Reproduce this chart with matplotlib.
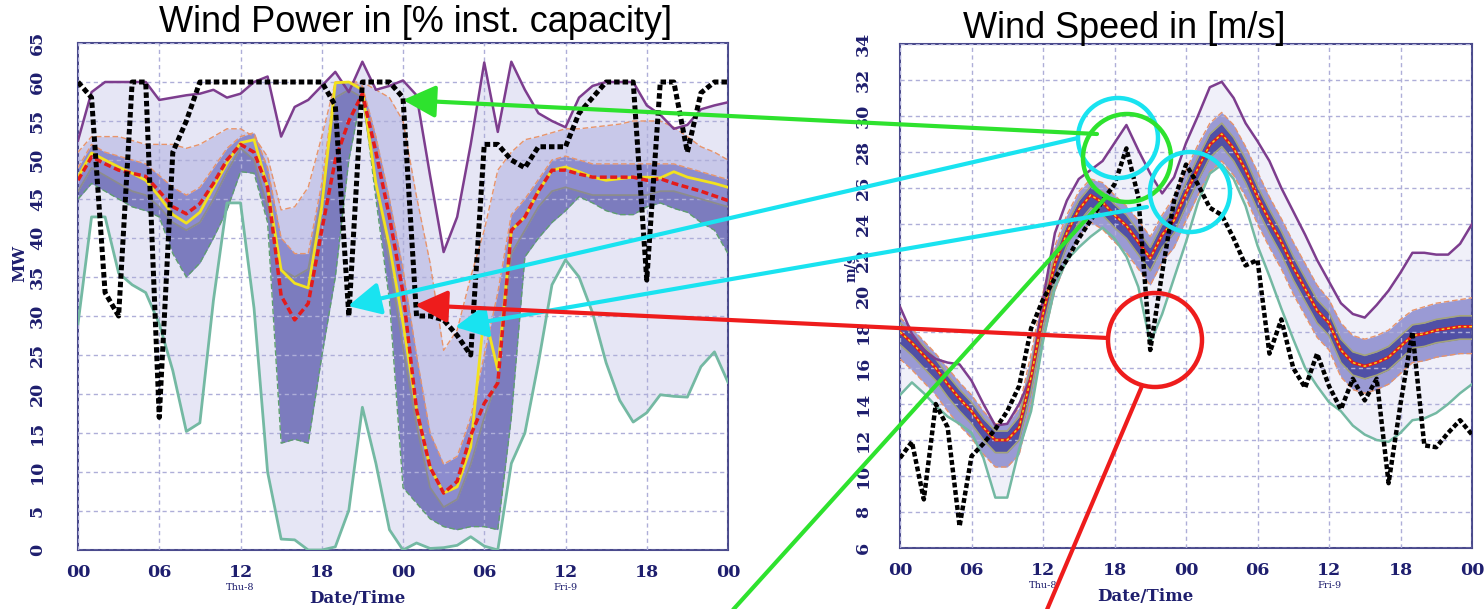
import numpy as np
import matplotlib
matplotlib.use('Agg')
import matplotlib.pyplot as plt
from matplotlib.patches import Ellipse, FancyArrowPatch
from matplotlib.lines import Line2D

# ---------------- data ----------------
hours = np.arange(49)
tick_hours = [0, 6, 12, 18, 24, 30, 36, 42, 48]
tick_labels = ['00', '06', '12', '18', '00', '06', '12', '18', '00']
day_hours = [12, 36]
day_labels = ['Thu-8', 'Fri-9']

# Wind power [MW]
wp_obs = [60, 58, 33, 30, 60, 60, 17, 51, 55, 60, 60, 60, 60, 60, 60, 60, 60, 60, 60, 57,
          30, 60, 60, 60, 58, 30, 30, 29.5, 27.5, 25, 52, 52, 50, 49, 51.7, 51.7, 51.7, 56, 58, 60,
          60, 60, 34.6, 60, 60, 51, 58.6, 60, 60]
wp_max = [52.5, 58.7, 60, 60, 60, 60, 57.7, 58, 58.3, 58.5, 59, 58, 58.5, 60, 60.7, 53, 56.8, 57.7, 59.5, 61.3,
          58.7, 62.6, 59, 59.5, 60.2, 58.3, 48, 38.2, 42.7, 52, 62.5, 53.6, 62.6, 59, 56, 55, 54.2, 58, 59.5, 60,
          60, 60, 57, 55.8, 54, 54.5, 56.5, 57, 57.4]
wp_min = [29, 42.7, 42.7, 35.5, 34, 33, 29, 23, 15.2, 16.3, 32, 44.5, 44.5, 31, 10, 1.4, 1.3, 0, 0, 0.4,
          5.1, 18.3, 11.1, 2.6, 0, 0.9, 0.2, 0.3, 0.6, 1.7, 0.5, 0, 11.1, 15, 24, 34, 37.2, 35, 30.4, 24,
          19.2, 16.4, 17.6, 19.9, 19.7, 19.6, 23.5, 25.4, 21.5]
wp_yellow = [47.8, 50.9, 50, 49.1, 48.3, 47.4, 45.3, 43, 41.9, 43.3, 46.5, 49.6, 52.2, 52.6, 46.5, 35.9, 34.2, 33.6, 44, 59.9,
             60, 59, 47, 39, 29.1, 18, 10.6, 7.3, 8.1, 13.2, 30.4, 23.1, 41, 42.7, 46, 48.7, 49.1, 48.5, 47.8, 47.4,
             47.6, 47.8, 47.8, 47.7, 48.5, 47.8, 47.4, 47, 46.5]
wp_red = [47.4, 50.4, 49.5, 48.7, 48.3, 47.9, 46, 44, 43.1, 44.4, 47, 50, 52, 51, 46.5, 32.6, 29.5, 31.6, 41, 50,
          55, 58.5, 51, 42.7, 33, 18, 10.6, 7.3, 8.8, 14.7, 18.8, 21.4, 41, 42.7, 46, 48.7, 48.7, 48.2, 47.8, 47.8,
          47.8, 47.8, 47.4, 47.6, 47, 46.5, 46, 45.4, 44.8]
wp_q90 = [51, 53, 53, 53, 52.5, 52, 52, 52, 51.5, 52, 53, 54, 54, 53, 50.4, 43.6, 44, 46.5, 53, 60,
          60, 60, 59, 58, 55, 45.3, 36.8, 25.6, 28.2, 35, 41, 48.7, 51, 52.6, 53, 53.5, 54, 54, 54.2, 54.4,
          54.6, 55, 55, 55, 54.2, 53, 51.7, 51, 50]
wp_q75 = [49, 52, 51, 50.5, 50, 49.5, 48, 46.5, 45.5, 46.5, 49, 51.5, 53, 53.5, 49, 40, 38, 38, 47, 60,
          60, 59.5, 53, 45, 36, 25, 15, 11, 12, 17, 25, 33, 43, 45, 47.5, 50, 50.5, 50, 49.5, 49.5,
          49.5, 49.5, 49.5, 49.5, 49.5, 49, 48.5, 48, 47.5]
wp_q25 = [46, 49, 48, 47, 46, 45.5, 44, 42, 41, 42, 45, 48.5, 51.5, 50, 44, 36, 35, 36, 45, 58,
          59, 58, 47, 37, 26, 16, 8, 5.5, 6.5, 11, 17, 22, 38, 41, 44, 46, 46.5, 46, 45.5, 45.5,
          45.5, 45.5, 45.5, 46, 46, 45.5, 45, 44.5, 44]
wp_q10 = [45, 47, 46, 45, 44, 43.5, 42.7, 38, 35, 36.8, 40, 43.6, 48.5, 48.3, 42, 13.7, 14.2, 13.7, 24.8, 35,
          50, 59, 45, 32, 8, 6, 4, 3, 2.6, 3, 3, 2.6, 17, 37.6, 40, 42, 43.5, 45.3, 44.5, 43.5,
          43, 43, 44, 44.5, 43.8, 43.3, 42, 41, 38]

# Wind speed [m/s]
ws_obs = [11.0, 11.9, 8.7, 14.0, 12.7, 7.2, 11.1, 11.8, 12.6, 13.6, 15, 18.2, 19.8, 21, 22, 23.2, 24.2, 25.3, 26.2, 28.2,
          25.5, 17, 21.3, 25.3, 27.3, 26.2, 24.9, 24.5, 23.2, 21.7, 22, 16.8, 18.7, 16, 14.9, 16.8, 15, 13.7, 15.4, 14.2,
          15.4, 9.6, 14, 18, 11.7, 11.6, 12.4, 13.1, 12.3]
ws_max = [19.4, 17.9, 17, 16.5, 16.3, 16.2, 15.3, 14, 12.8, 12.9, 14, 15.5, 19.8, 23.5, 25.3, 26.5, 27, 27.5, 28.5, 29.5,
          28.1, 26.8, 25.7, 26.6, 28.5, 30, 31.6, 31.9, 31, 29.6, 28.6, 27.5, 26, 24.7, 23.4, 22, 20.8, 19.6, 19, 18.8,
          19.5, 20.3, 21.3, 22.4, 22.4, 22.3, 22.3, 22.9, 24]
ws_min = [14.5, 15.2, 14.6, 13.9, 13.3, 12.9, 12.4, 11, 8.8, 8.8, 11.5, 13.6, 17.5, 20.5, 22, 22.7, 23.3, 23.8, 23.2, 22.2,
          20.5, 17.4, 19, 21, 23, 25.2, 26.8, 27.3, 26.5, 25, 22.8, 21.1, 19.3, 17.6, 16, 15, 14.1, 13.6, 12.8, 12.3,
          12, 11.9, 12.4, 13.1, 13.2, 13.5, 14, 14.6, 15.1]
ws_red = [18, 17.4, 16.7, 16, 15.1, 14.3, 13.6, 12.7, 12, 12, 12.7, 15.5, 19, 21.8, 23.5, 24.8, 25.6, 25.2, 24.5, 23.9,
          23, 22.1, 23.4, 24.2, 25.7, 27.1, 28.4, 29, 28.2, 27, 25.5, 24.2, 23, 21.6, 20.4, 19.2, 18.5, 17, 16.3, 16.1,
          16.3, 16.6, 17.2, 17.8, 17.9, 18.1, 18.2, 18.3, 18.3]
ws_q90 = [18.8, 18.2, 17.5, 16.8, 16.0, 15.2, 14.5, 13.6, 12.9, 12.9, 13.8, 16.8, 20.2, 22.8, 24.5, 25.8, 26.5, 26.3, 25.6, 25.0,
          24.2, 23.3, 24.5, 25.5, 27.0, 28.4, 29.6, 30.2, 29.5, 28.3, 26.9, 25.5, 24.3, 23.0, 21.8, 20.6, 19.8, 18.5, 17.8, 17.6,
          17.8, 18.1, 18.7, 19.2, 19.4, 19.6, 19.7, 19.8, 19.9]
ws_q75 = [18.5, 17.9, 17.2, 16.5, 15.6, 14.8, 14.1, 13.2, 12.5, 12.5, 13.3, 16.1, 19.6, 22.3, 24.0, 25.3, 26.1, 25.8, 25.1, 24.5,
          23.6, 22.7, 24.0, 24.8, 26.3, 27.7, 29.0, 29.6, 28.8, 27.6, 26.1, 24.8, 23.6, 22.2, 21.0, 19.8, 19.1, 17.6, 16.9, 16.7,
          16.9, 17.2, 17.8, 18.4, 18.5, 18.7, 18.8, 18.9, 18.9]
ws_q25 = [17.3, 16.7, 16.0, 15.3, 14.4, 13.6, 12.9, 12.0, 11.3, 11.3, 12.0, 14.7, 18.2, 21.0, 22.8, 24.1, 24.9, 24.5, 23.8, 23.2,
          22.3, 21.4, 22.7, 23.5, 25.0, 26.4, 27.7, 28.3, 27.5, 26.3, 24.8, 23.5, 22.3, 20.9, 19.7, 18.5, 17.8, 16.3, 15.6, 15.4,
          15.6, 15.9, 16.5, 17.1, 17.2, 17.4, 17.5, 17.6, 17.6]
ws_q10 = [16.5, 15.9, 15.2, 14.5, 13.6, 12.8, 12.1, 11.2, 10.5, 10.5, 11.2, 14.0, 17.5, 20.3, 22.0, 23.3, 24.1, 23.7, 23.0, 22.4,
          21.5, 20.6, 21.9, 22.7, 24.2, 25.6, 26.9, 27.5, 26.7, 25.5, 24.0, 22.7, 21.5, 20.1, 18.9, 17.7, 17.0, 15.5, 14.8, 14.6,
          14.8, 15.1, 15.7, 16.3, 16.4, 16.6, 16.7, 16.8, 16.8]

# ---------------- styling ----------------
W, H = 1484, 609
navy = '#1e1e6e'
serif = 'DejaVu Serif'

fig = plt.figure(figsize=(W / 100, H / 100), dpi=100)
fig.patch.set_facecolor('white')
ax1 = fig.add_axes([78 / W, 1 - 550 / H, 650 / W, 507 / H])
ax2 = fig.add_axes([900 / W, 1 - 548 / H, 572 / W, 504 / H])


def style_axes(ax, ylim, yticks, ypad, ylabel, ylabel_x, ylabel_y, ylabel_size):
    ax.set_xlim(0, 48)
    ax.set_ylim(*ylim)
    ax.set_xticks(tick_hours)
    ax.set_xticklabels(tick_labels)
    ax.set_yticks(yticks)
    ax.tick_params(axis='both', length=0, labelcolor=navy)
    ax.tick_params(axis='x', pad=10)
    ax.tick_params(axis='y', pad=ypad, labelrotation=90)
    for lab in ax.get_xticklabels() + ax.get_yticklabels():
        lab.set_fontfamily(serif)
        lab.set_fontweight('bold')
        lab.set_fontsize(12.5)
    for lab in ax.get_yticklabels():
        lab.set_va('center')
    ax.grid(True, color='#aeaed8', linestyle=(0, (3, 2.5)), linewidth=1.0)
    ax.set_axisbelow(False)
    for sp in ax.spines.values():
        sp.set_color('#4a4a8c')
        sp.set_linewidth(1.5)
    ax.text(ylabel_x, ylabel_y, ylabel, transform=fig.transFigure, rotation=90,
            ha='center', va='center', family=serif, fontweight='bold',
            fontsize=ylabel_size, color=navy)
    for h, lab in zip(day_hours, day_labels):
        ax.text(h, -0.074, lab, transform=ax.get_xaxis_transform(), ha='center', va='center',
                family=serif, fontsize=7, color=navy)
    ax.text(20.6, -0.096, 'Date/Time', transform=ax.get_xaxis_transform(), ha='center', va='center',
            family=serif, fontweight='bold', fontsize=12, color=navy)


style_axes(ax1, (0, 65), np.arange(0, 66, 5), 23, 'MW', 20 / W, 1 - 263 / H, 12)
style_axes(ax2, (6, 34), np.arange(6, 35, 2), 20, 'm/s', 851 / W, 1 - 268 / H, 10)

# ---- left: wind power ----
ax1.fill_between(hours, wp_min, wp_max, color='#e6e6f5', lw=0, zorder=1)
ax1.fill_between(hours, wp_q10, wp_q90, color='#c8c8e9', lw=0, zorder=1.1)
ax1.fill_between(hours, wp_q25, wp_q75, color='#8c8cce', lw=0, zorder=1.2)
ax1.fill_between(hours, wp_q10, wp_q25, color='#4a4aa2', lw=0, alpha=0.6, zorder=1.3)

ax1.plot(hours, wp_q90, color='#e8946a', lw=1.0, ls=(0, (4, 2)), zorder=3)
ax1.plot(hours, wp_q75, color='#e8946a', lw=1.0, ls=(0, (4, 2)), zorder=3)
ax1.plot(hours, wp_q25, color='#8c8c8c', lw=1.3, zorder=3)
ax1.plot(hours, wp_q10, color='#5f9f6f', lw=1.0, ls=(0, (4, 2)), zorder=3)
ax1.plot(hours, wp_min, color='#74b9a3', lw=2.0, zorder=3.5)
ax1.plot(hours, wp_max, color='#7d3d8e', lw=1.8, zorder=3.5)
ax1.plot(hours, wp_yellow, color='#f2e21e', lw=2.0, zorder=4)
ax1.plot(hours, wp_red, color='#e41b1b', lw=2.5, ls=(0, (2, 1)), zorder=4.2)
ax1.plot(hours, wp_obs, color='black', lw=3.6, ls=(0, (1.1, 0.6)), zorder=5)

# ---- right: wind speed ----
ax2.fill_between(hours, ws_min, ws_max, color='#f0f0f9', lw=0, zorder=1)
ax2.fill_between(hours, ws_q10, ws_q90, color='#9a9ad4', lw=0, zorder=1.1)
ax2.fill_between(hours, ws_q25, ws_q75, color='#5050a6', lw=0, zorder=1.2)

ax2.plot(hours, ws_q90, color='#e8946a', lw=1.0, ls=(0, (4, 2)), zorder=3)
ax2.plot(hours, ws_q10, color='#e8946a', lw=1.0, ls=(0, (4, 2)), zorder=3)
ax2.plot(hours, ws_q75, color='#a4a47a', lw=1.2, zorder=3)
ax2.plot(hours, ws_q25, color='#a4a47a', lw=1.2, zorder=3)
ax2.plot(hours, ws_min, color='#74b9a3', lw=1.8, zorder=3.5)
ax2.plot(hours, ws_max, color='#7d3d8e', lw=1.8, zorder=3.5)
ax2.plot(hours, ws_red, color='#e41b1b', lw=2.2, zorder=4)
ax2.plot(hours, ws_red, color='#f2e21e', lw=1.0, ls=(0, (2, 2)), zorder=4.2)
ax2.plot(hours, ws_obs, color='black', lw=3.2, ls=(0, (1.1, 0.6)), zorder=5)

# ---- titles ----
fig.text(416 / W, 1 - 23 / H, 'Wind Power in [% inst. capacity]', ha='center', va='center',
         family='Liberation Sans', fontsize=26, color='black')
fig.text(1124 / W, 1 - 29 / H, 'Wind Speed in [m/s]', ha='center', va='center',
         family='Liberation Sans', fontsize=26, color='black')

# ---- overlay annotations (figure pixel positions, origin top-left) ----
cyan, green, red = '#19e3f0', '#2ee22e', '#ee1c1c'
circles = [(1118, 138, 40, cyan), (1127, 158, 44, green), (1190, 192, 40, cyan), (1155, 340, 47, red)]
arrows = [((1097, 134), (403, 100), green), ((1078, 138), (348, 306), cyan),
          ((1147, 207), (455, 327), cyan), ((1108, 338), (415, 305), red)]
segments = [((1108, 195), (731, 612), green), ((1142, 386), (1046, 612), red)]


def fp(p):
    return (p[0] / W, 1 - p[1] / H)


for cx, cy, r, c in circles:
    fig.add_artist(Ellipse(fp((cx, cy)), 2 * r / W, 2 * r / H, transform=fig.transFigure,
                           fill=False, edgecolor=c, lw=3.2, zorder=20))
for (p0, p1, c) in segments:
    fig.add_artist(Line2D([fp(p0)[0], fp(p1)[0]], [fp(p0)[1], fp(p1)[1]], transform=fig.transFigure,
                          color=c, lw=3.0, zorder=20, solid_capstyle='butt'))
for (p0, p1, c) in arrows:
    fig.add_artist(FancyArrowPatch(fp(p0), fp(p1), transform=fig.transFigure,
                                   arrowstyle='-|>,head_length=0.9,head_width=0.45',
                                   mutation_scale=22, color=c, lw=3.0, zorder=21,
                                   shrinkA=0, shrinkB=0))

fig.savefig('out.png', dpi=100)
